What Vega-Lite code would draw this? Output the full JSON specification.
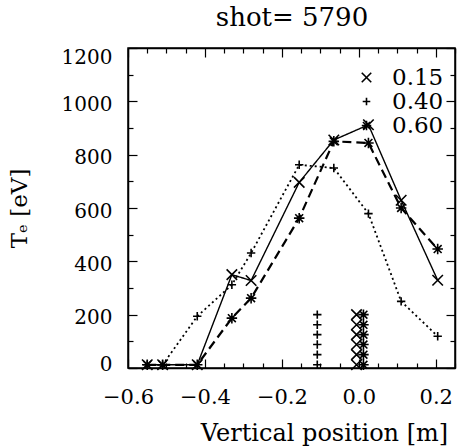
{
  "$schema": "https://vega.github.io/schema/vega-lite/v6.json",
  "autosize": "none",
  "width": 327,
  "height": 320,
  "padding": {"left": 128, "top": 48, "right": 16, "bottom": 80},
  "background": "white",
  "config": {
    "font": "DejaVu Serif",
    "view": {"stroke": "black", "strokeWidth": 1.5}
  },
  "data": {
    "values": [
      {"s": "0.15", "k": "p", "x": -0.55, "y": 12},
      {"s": "0.15", "k": "p", "x": -0.51, "y": 12},
      {"s": "0.15", "k": "p", "x": -0.42, "y": 12},
      {"s": "0.15", "k": "p", "x": -0.33, "y": 350},
      {"s": "0.15", "k": "p", "x": -0.28, "y": 328},
      {"s": "0.15", "k": "p", "x": -0.155, "y": 696},
      {"s": "0.15", "k": "p", "x": -0.065, "y": 855},
      {"s": "0.15", "k": "p", "x": 0.025, "y": 912},
      {"s": "0.15", "k": "p", "x": 0.11, "y": 629},
      {"s": "0.15", "k": "p", "x": 0.205, "y": 329},
      {"s": "0.40", "k": "p", "x": -0.55, "y": 12},
      {"s": "0.40", "k": "p", "x": -0.51, "y": 12},
      {"s": "0.40", "k": "p", "x": -0.42, "y": 194},
      {"s": "0.40", "k": "p", "x": -0.33, "y": 312},
      {"s": "0.40", "k": "p", "x": -0.28, "y": 431},
      {"s": "0.40", "k": "p", "x": -0.155, "y": 762},
      {"s": "0.40", "k": "p", "x": -0.065, "y": 750},
      {"s": "0.40", "k": "p", "x": 0.025, "y": 579},
      {"s": "0.40", "k": "p", "x": 0.11, "y": 250},
      {"s": "0.40", "k": "p", "x": 0.205, "y": 119},
      {"s": "0.60", "k": "p", "x": -0.55, "y": 12},
      {"s": "0.60", "k": "p", "x": -0.51, "y": 12},
      {"s": "0.60", "k": "p", "x": -0.42, "y": 12},
      {"s": "0.60", "k": "p", "x": -0.33, "y": 187},
      {"s": "0.60", "k": "p", "x": -0.28, "y": 262},
      {"s": "0.60", "k": "p", "x": -0.155, "y": 562},
      {"s": "0.60", "k": "p", "x": -0.065, "y": 850},
      {"s": "0.60", "k": "p", "x": 0.025, "y": 844},
      {"s": "0.60", "k": "p", "x": 0.11, "y": 600},
      {"s": "0.60", "k": "p", "x": 0.205, "y": 446},
      {"s": "0.40", "k": "c", "x": -0.108, "y": 200},
      {"s": "0.40", "k": "c", "x": -0.108, "y": 162},
      {"s": "0.40", "k": "c", "x": -0.108, "y": 125},
      {"s": "0.40", "k": "c", "x": -0.108, "y": 88},
      {"s": "0.40", "k": "c", "x": -0.108, "y": 50},
      {"s": "0.40", "k": "c", "x": -0.108, "y": 12},
      {"s": "0.15", "k": "c", "x": -0.006, "y": 200},
      {"s": "0.15", "k": "c", "x": -0.006, "y": 162},
      {"s": "0.15", "k": "c", "x": -0.006, "y": 125},
      {"s": "0.15", "k": "c", "x": -0.006, "y": 88},
      {"s": "0.15", "k": "c", "x": -0.006, "y": 50},
      {"s": "0.15", "k": "c", "x": -0.006, "y": 12},
      {"s": "0.60", "k": "c", "x": 0.012, "y": 200},
      {"s": "0.60", "k": "c", "x": 0.012, "y": 162},
      {"s": "0.60", "k": "c", "x": 0.012, "y": 125},
      {"s": "0.60", "k": "c", "x": 0.012, "y": 88},
      {"s": "0.60", "k": "c", "x": 0.012, "y": 50},
      {"s": "0.60", "k": "c", "x": 0.012, "y": 12}
    ]
  },
  "resolve": {"axis": {"x": "independent", "y": "independent"}},
  "layer": [
    {
      "transform": [{"filter": "datum.k == 'p'"}],
      "mark": {"type": "line", "color": "black", "strokeCap": "butt"},
      "encoding": {
        "x": {
          "field": "x", "type": "quantitative",
          "scale": {"domain": [-0.6, 0.25], "nice": false, "zero": false},
          "axis": {
            "orient": "bottom",
            "title": "Vertical position [m]",
            "titleFontSize": 24, "titleFontWeight": "normal", "titleColor": "black", "titleFont": "DejaVu Serif",
            "titlePadding": 10,
            "titleX": 196,
            "titleAnchor": "middle",
            "values": [-0.6, -0.55, -0.5, -0.45, -0.4, -0.35, -0.3, -0.25, -0.2, -0.15, -0.1, -0.05, 0, 0.05, 0.1, 0.15, 0.2, 0.25],
            "labelExpr": "abs(datum.value*5 - round(datum.value*5)) < 0.001 ? format(datum.value, '.1f') : ''",
            "labelFontSize": 21, "labelColor": "black", "labelOverlap": false, "labelFlush": false,
            "labelPadding": 27,
            "tickSize": {"condition": {"test": "abs(datum.value*5 - round(datum.value*5)) < 0.001", "value": -9}, "value": -5},
            "tickColor": "black", "tickWidth": 1.2,
            "domainColor": "black", "domainWidth": 1.5, "grid": false
          }
        },
        "y": {
          "field": "y", "type": "quantitative",
          "scale": {"domain": [0, 1200], "nice": false},
          "axis": {
            "orient": "left",
            "title": "Tₑ [eV]",
            "titleFontSize": 23, "titleFontWeight": "normal", "titleColor": "black", "titleFont": "DejaVu Serif",
            "titlePadding": 30,
            "values": [0, 100, 200, 300, 400, 500, 600, 700, 800, 900, 1000, 1100, 1200],
            "labelExpr": "datum.value % 200 == 0 ? format(datum.value, 'd') : ''",
            "labelFontSize": 20, "labelColor": "black", "labelOverlap": false, "labelFlush": false,
            "labelPadding": 25,
            "labelOffset": {"condition": [{"test": "datum.value == 1200", "value": 9}, {"test": "datum.value == 0", "value": -4}], "value": 3},
            "tickSize": {"condition": {"test": "datum.value % 200 == 0", "value": -9}, "value": -5},
            "tickColor": "black", "tickWidth": 1.2,
            "domainColor": "black", "domainWidth": 1.5, "grid": false
          }
        },
        "strokeDash": {
          "field": "s", "type": "nominal",
          "scale": {"range": [[1, 0], [2, 3], [9, 5]]},
          "legend": null
        },
        "strokeWidth": {
          "field": "s", "type": "nominal",
          "scale": {"range": [1.4, 2.2, 2.4]},
          "legend": null
        },
        "order": {"field": "x", "type": "quantitative"}
      }
    },
    {
      "mark": {"type": "point", "filled": false, "stroke": "black", "strokeWidth": 1.6, "size": 110, "opacity": 1},
      "encoding": {
        "x": {
          "field": "x", "type": "quantitative",
          "axis": {
            "orient": "top", "labels": false,
            "title": "shot= 5790",
            "titleFontSize": 26, "titleFontWeight": "normal", "titleColor": "black", "titleFont": "DejaVu Serif",
            "titleBaseline": "alphabetic",
            "titlePadding": 22,
            "values": [-0.6, -0.55, -0.5, -0.45, -0.4, -0.35, -0.3, -0.25, -0.2, -0.15, -0.1, -0.05, 0, 0.05, 0.1, 0.15, 0.2, 0.25],
            "tickSize": {"condition": {"test": "abs(datum.value*5 - round(datum.value*5)) < 0.001", "value": -9}, "value": -5},
            "tickColor": "black", "tickWidth": 1.2,
            "domainColor": "black", "domainWidth": 1.5, "grid": false
          }
        },
        "y": {
          "field": "y", "type": "quantitative",
          "axis": {
            "orient": "right", "title": null, "labels": false,
            "values": [0, 100, 200, 300, 400, 500, 600, 700, 800, 900, 1000, 1100, 1200],
            "tickSize": {"condition": {"test": "datum.value % 200 == 0", "value": -9}, "value": -5},
            "tickColor": "black", "tickWidth": 1.2,
            "domainColor": "black", "domainWidth": 1.5, "grid": false
          }
        },
        "shape": {
          "field": "s", "type": "nominal",
          "scale": {
            "domain": ["0.15", "0.40", "0.60"],
            "range": ["M-1,-1L1,1M1,-1L-1,1", "M-0.8,0L0.8,0M0,-0.8L0,0.8", "M-1,0L1,0M0,-1L0,1M-0.75,-0.75L0.75,0.75M0.75,-0.75L-0.75,0.75"]
          },
          "legend": {
            "title": null,
            "orient": "none",
            "legendX": 227,
            "legendY": 18,
            "padding": 0,
            "rowPadding": 0,
            "labelFontSize": 23,
            "labelFont": "DejaVu Serif",
            "labelColor": "black",
            "labelOffset": 14,
            "symbolSize": 90,
            "symbolStrokeColor": "black",
            "symbolStrokeWidth": 1.6,
            "symbolFillColor": "transparent"
          }
        }
      }
    }
  ]
}
